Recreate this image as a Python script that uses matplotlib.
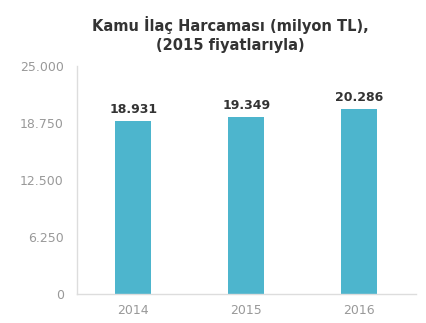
import matplotlib
matplotlib.use("Agg")
import matplotlib.pyplot as plt
from matplotlib.ticker import FuncFormatter

years = ["2014", "2015", "2016"]
values = [18931, 19349, 20286]
yticks = [0, 6250, 12500, 18750, 25000]

plt.rcParams['font.family'] = ['DejaVu Sans']

fig = plt.figure(figsize=(4.27, 3.23), dpi=100)
ax = fig.add_axes([0.180, 0.090, 0.794, 0.706])

x = range(len(years))
ax.bar(x, values, width=0.32, color="#4DB5CD")
for xi, v in zip(x, values):
    ax.text(xi, v + 550, f"{v:,}".replace(",", "."), ha="center", va="bottom",
            fontsize=9, fontweight="bold", color="#333333")

ax.set_xlim(-0.5, 2.5)
ax.set_ylim(0, 25000)
ax.set_xticks(list(x))
ax.set_xticklabels(years)
ax.set_yticks(yticks)
ax.yaxis.set_major_formatter(FuncFormatter(lambda v, p: f"{int(v):,}".replace(",", ".")))
ax.tick_params(axis="both", length=0, colors="#999999", labelsize=9)
ax.tick_params(axis="y", pad=9.5)
ax.tick_params(axis="x", pad=7)
for s in ["top", "right"]:
    ax.spines[s].set_visible(False)
for s in ["left", "bottom"]:
    ax.spines[s].set_color("#DDDDDD")
    ax.spines[s].set_linewidth(1)

fig.text(0.54, 0.893, "Kamu İlaç Harcaması (milyon TL),\n(2015 fiyatlarıyla)", ha="center", va="center",
         fontsize=10.5, fontweight="bold", color="#333333", linespacing=1.3)

fig.savefig("out.png", dpi=100, facecolor="white")
